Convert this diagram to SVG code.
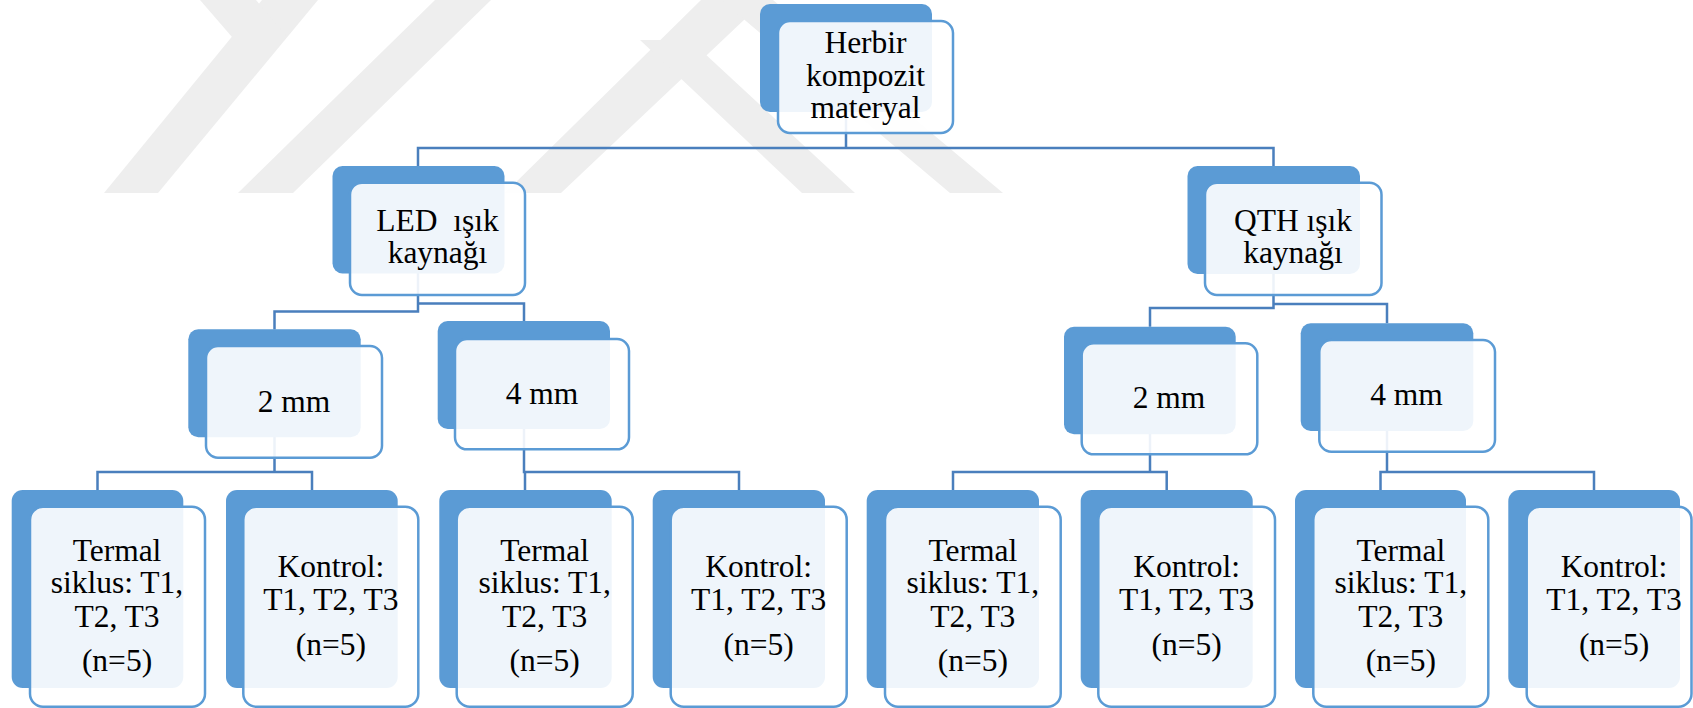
<svg xmlns="http://www.w3.org/2000/svg" width="1693" height="708" viewBox="0 0 1693 708">
<style>
.wm{fill:#eeeeee}
.d{fill:#5b9bd5}
.f{fill:#ffffff;fill-opacity:0.9;stroke:#5b9bd5;stroke-width:2.5}
.c{fill:none;stroke:#4a7fbd;stroke-width:2.5}
text{font-family:'Liberation Serif','Times New Roman','DejaVu Serif',serif;font-size:31.5px;fill:#000;text-anchor:middle}
</style>
<rect width="1693" height="708" fill="#ffffff"/>
<g id="watermark">
<polygon class="wm" points="262,0 318,0 158,193 104,193"/>
<polygon class="wm" points="200,0 256,0 287,37 232,37"/>
<polygon class="wm" points="435,0 491,0 293,193 238,193"/>
<polygon class="wm" points="701,0 765,0 561,193 505,193"/>
<polygon class="wm" points="721,0 773,0 1003,193 950,193"/>
<polygon class="wm" points="640,40 690,40 855,193 802,193"/>
</g>
<g id="connectors">
<path class="c" d="M418,166 V148 H1273.5 V166 M846,112 V148"/>
<path class="c" d="M418,273 V311.5 H274.5 V329.5 M418,303.5 H524 V321"/>
<path class="c" d="M1273.5,274 V308 H1150 V326.7 M1273.5,304 H1387 V323.3"/>
<path class="c" d="M274.5,437 V472 H97.5 V490 M274.5,472 H312 V490"/>
<path class="c" d="M524,429 V472 H525 V490 M524,472 H739 V490"/>
<path class="c" d="M1150,434 V472 H953 V490 M1150,472 H1166.7 V490"/>
<path class="c" d="M1387,431 V472 H1380.5 V490 M1387,472 H1594 V490"/>
</g>
<g font-family="Liberation Serif, Times New Roman, DejaVu Serif, serif" font-size="31.5" text-anchor="middle">
<g id="n-root">
<rect class="d" x="760" y="4" width="172" height="108" rx="10"/>
<rect class="f" x="778" y="21" width="175" height="112" rx="12"/>
<text x="865.5" y="53.3">Herbir</text>
<text x="865.5" y="86">kompozit</text>
<text x="865.5" y="118.3">materyal</text>
</g>
<g id="n-led">
<rect class="d" x="332.5" y="166" width="172" height="107.5" rx="10"/>
<rect class="f" x="350" y="182.7" width="175" height="112.3" rx="12"/>
<text x="437.5" y="230.5" xml:space="preserve">LED  ışık</text>
<text x="437.5" y="262.5">kaynağı</text>
</g>
<g id="n-qth">
<rect class="d" x="1187.5" y="166" width="172.5" height="108" rx="10"/>
<rect class="f" x="1205" y="182.7" width="176.5" height="112.3" rx="12"/>
<text x="1293" y="230.5">QTH ışık</text>
<text x="1293" y="262.5">kaynağı</text>
</g>
<g id="n-led-2mm">
<rect class="d" x="188.3" y="329.3" width="172.4" height="108" rx="10"/>
<rect class="f" x="206" y="346" width="176" height="111.7" rx="12"/>
<text x="294" y="411.7">2 mm</text>
</g>
<g id="n-led-4mm">
<rect class="d" x="437.7" y="321" width="172.3" height="108" rx="10"/>
<rect class="f" x="455" y="339" width="174" height="110.3" rx="12"/>
<text x="542" y="404">4 mm</text>
</g>
<g id="n-qth-2mm">
<rect class="d" x="1064" y="326.7" width="171.7" height="107.6" rx="10"/>
<rect class="f" x="1081.7" y="343.3" width="175.6" height="111" rx="12"/>
<text x="1169" y="408.3">2 mm</text>
</g>
<g id="n-qth-4mm">
<rect class="d" x="1300.7" y="323.3" width="172.6" height="107.7" rx="10"/>
<rect class="f" x="1319.3" y="340" width="175.7" height="111.7" rx="12"/>
<text x="1406.5" y="405">4 mm</text>
</g>
<g id="n-l1">
<rect class="d" x="11.7" y="490" width="171.6" height="198" rx="11"/>
<rect class="f" x="30" y="506.7" width="175" height="200" rx="13"/>
<text x="117" y="560.7">Termal</text>
<text x="117" y="593.3">siklus: T1,</text>
<text x="117" y="626.7">T2, T3</text>
<text x="117" y="671">(n=5)</text>
</g>
<g id="n-l2">
<rect class="d" x="226" y="490" width="171.7" height="198" rx="11"/>
<rect class="f" x="243.3" y="506.7" width="175" height="200" rx="13"/>
<text x="330.8" y="577.3">Kontrol:</text>
<text x="330.8" y="610">T1, T2, T3</text>
<text x="330.8" y="655">(n=5)</text>
</g>
<g id="n-l3">
<rect class="d" x="439.3" y="490" width="172.4" height="198" rx="11"/>
<rect class="f" x="456.7" y="506.7" width="176" height="200" rx="13"/>
<text x="544.7" y="560.7">Termal</text>
<text x="544.7" y="593.3">siklus: T1,</text>
<text x="544.7" y="626.7">T2, T3</text>
<text x="544.7" y="671">(n=5)</text>
</g>
<g id="n-l4">
<rect class="d" x="652.7" y="490" width="172.3" height="198" rx="11"/>
<rect class="f" x="670.7" y="506.7" width="176" height="200" rx="13"/>
<text x="758.7" y="577.3">Kontrol:</text>
<text x="758.7" y="610">T1, T2, T3</text>
<text x="758.7" y="655">(n=5)</text>
</g>
<g id="n-l5">
<rect class="d" x="866.7" y="490" width="172.3" height="198" rx="11"/>
<rect class="f" x="885" y="506.7" width="175.7" height="200" rx="13"/>
<text x="972.8" y="560.7">Termal</text>
<text x="972.8" y="593.3">siklus: T1,</text>
<text x="972.8" y="626.7">T2, T3</text>
<text x="972.8" y="671">(n=5)</text>
</g>
<g id="n-l6">
<rect class="d" x="1080.7" y="490" width="172" height="198" rx="11"/>
<rect class="f" x="1098.3" y="506.7" width="176.7" height="200" rx="13"/>
<text x="1186.6" y="577.3">Kontrol:</text>
<text x="1186.6" y="610">T1, T2, T3</text>
<text x="1186.6" y="655">(n=5)</text>
</g>
<g id="n-l7">
<rect class="d" x="1295" y="490" width="171" height="198" rx="11"/>
<rect class="f" x="1313.3" y="506.7" width="175" height="200" rx="13"/>
<text x="1400.8" y="560.7">Termal</text>
<text x="1400.8" y="593.3">siklus: T1,</text>
<text x="1400.8" y="626.7">T2, T3</text>
<text x="1400.8" y="671">(n=5)</text>
</g>
<g id="n-l8">
<rect class="d" x="1508.3" y="490" width="171.7" height="198" rx="11"/>
<rect class="f" x="1526.7" y="506.7" width="164.8" height="200" rx="13"/>
<text x="1614" y="577.3">Kontrol:</text>
<text x="1614" y="610">T1, T2, T3</text>
<text x="1614" y="655">(n=5)</text>
</g>
</g>
</svg>
